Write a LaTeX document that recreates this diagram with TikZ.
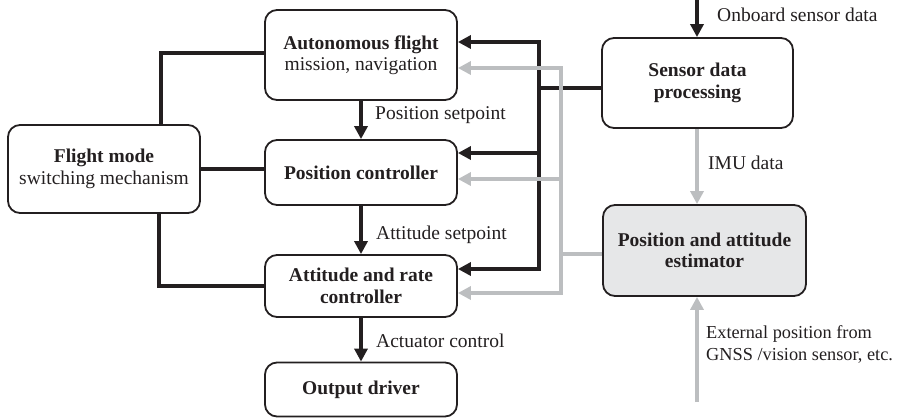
\documentclass[tikz,border=0pt]{standalone}
\usepackage{fontspec}
\setmainfont{Liberation Serif}
\usetikzlibrary{arrows.meta}
\definecolor{ink}{HTML}{231F20}
\definecolor{lgray}{HTML}{BCBEC0}
\definecolor{efill}{HTML}{E6E7E8}
\begin{document}
\begin{tikzpicture}[x=1pt,y=-1pt,
  box/.style={draw=ink,line width=1.8pt,rounded corners=12pt,align=center,
    inner sep=2pt,font=\fontsize{19.5}{21.5}\selectfont,text=ink},
  lbl/.style={font=\fontsize{19.5}{22}\selectfont,text=ink,inner sep=0pt,anchor=west,align=left},
  blkline/.style={draw=ink,line width=4pt},
  blk/.style={blkline,-{Triangle[length=13pt,width=13pt]}},
  gryline/.style={draw=lgray,line width=4pt},
  gry/.style={gryline,-{Triangle[length=13pt,width=13pt]}}]
\useasboundingbox (0,0) rectangle (898,418);
% boxes
\node[box,minimum width=192pt,minimum height=90pt] (auto) at (361,55) {\textbf{Autonomous flight}\\mission, navigation};
\node[box,minimum width=192pt,minimum height=65pt] (pos) at (361,172.5) {\textbf{Position controller}};
\node[box,minimum width=192pt,minimum height=88pt] (fm) at (104,169) {\textbf{Flight mode}\\switching mechanism};
\node[box,minimum width=192pt,minimum height=62pt] (att) at (361,286) {\textbf{Attitude and rate}\\\textbf{controller}};
\node[box,minimum width=192pt,minimum height=54pt] (out) at (361,389.5) {\textbf{Output driver}};
\node[box,minimum width=191pt,minimum height=90pt] (sens) at (697.5,83) {\textbf{Sensor data}\\\textbf{processing}};
\node[box,fill=efill,minimum width=203pt,minimum height=91pt] (est) at (704.5,250.5) {\textbf{Position and attitude}\\\textbf{estimator}};
% coordinates
\coordinate (top) at (697,0);
\coordinate (extin) at (697,402);
\coordinate (bk) at (539,88);
\coordinate (btop) at (539,42);
\coordinate (bmid) at (539,153);
\coordinate (bbot) at (539,269);
\coordinate (gk) at (561,254);
\coordinate (gtop) at (561,68);
\coordinate (gmid) at (561,179);
\coordinate (gbot) at (561,293);
% main chain
\draw[blk] (auto.south) -- (pos.north);
\draw[blk] (pos.south) -- (att.north);
\draw[blk] (att.south) -- (out.north);
\node[lbl] (l1) at (375,115) {Position setpoint};
\node[lbl] (l2) at (376,235) {Attitude setpoint};
\node[lbl] (l3) at (376,341) {Actuator control};
% flight mode links
\draw[blkline] ([xshift=57pt]fm.north) |- ([yshift=2pt]auto.west);
\draw[blkline] (fm.east) -- (fm.east -| pos.west);
\draw[blkline] ([xshift=55pt]fm.south) |- (att.west);
% sensor inputs
\draw[blk] (top) -- (top |- sens.north);
\node[lbl] (l4) at (717,15) {Onboard sensor data};
\draw[gry] (top |- sens.south) -- (top |- est.north);
\node[lbl] (l5) at (708,163) {IMU data};
\draw[gry] (extin) -- (extin |- est.south);
\node[lbl,font=\fontsize{18.3}{22}\selectfont] (l6) at (706,344) {External position from\\GNSS /vision sensor, etc.};
% black bus
\draw[blkline] (sens.west |- bk) -- (bk);
\draw[blk] (bmid) -- (btop) -- (btop -| auto.east);
\draw[blk] (bmid) -- (bbot) -- (bbot -| att.east);
\draw[blk] (bmid) -- (bmid -| pos.east);
% gray bus
\draw[gryline] (est.west |- gk) -- (gk);
\draw[gry] (gmid) -- (gtop) -- (gtop -| auto.east);
\draw[gry] (gmid) -- (gbot) -- (gbot -| att.east);
\draw[gry] (gk) -- (gmid) -- (gmid -| pos.east);
\end{tikzpicture}
\end{document}
